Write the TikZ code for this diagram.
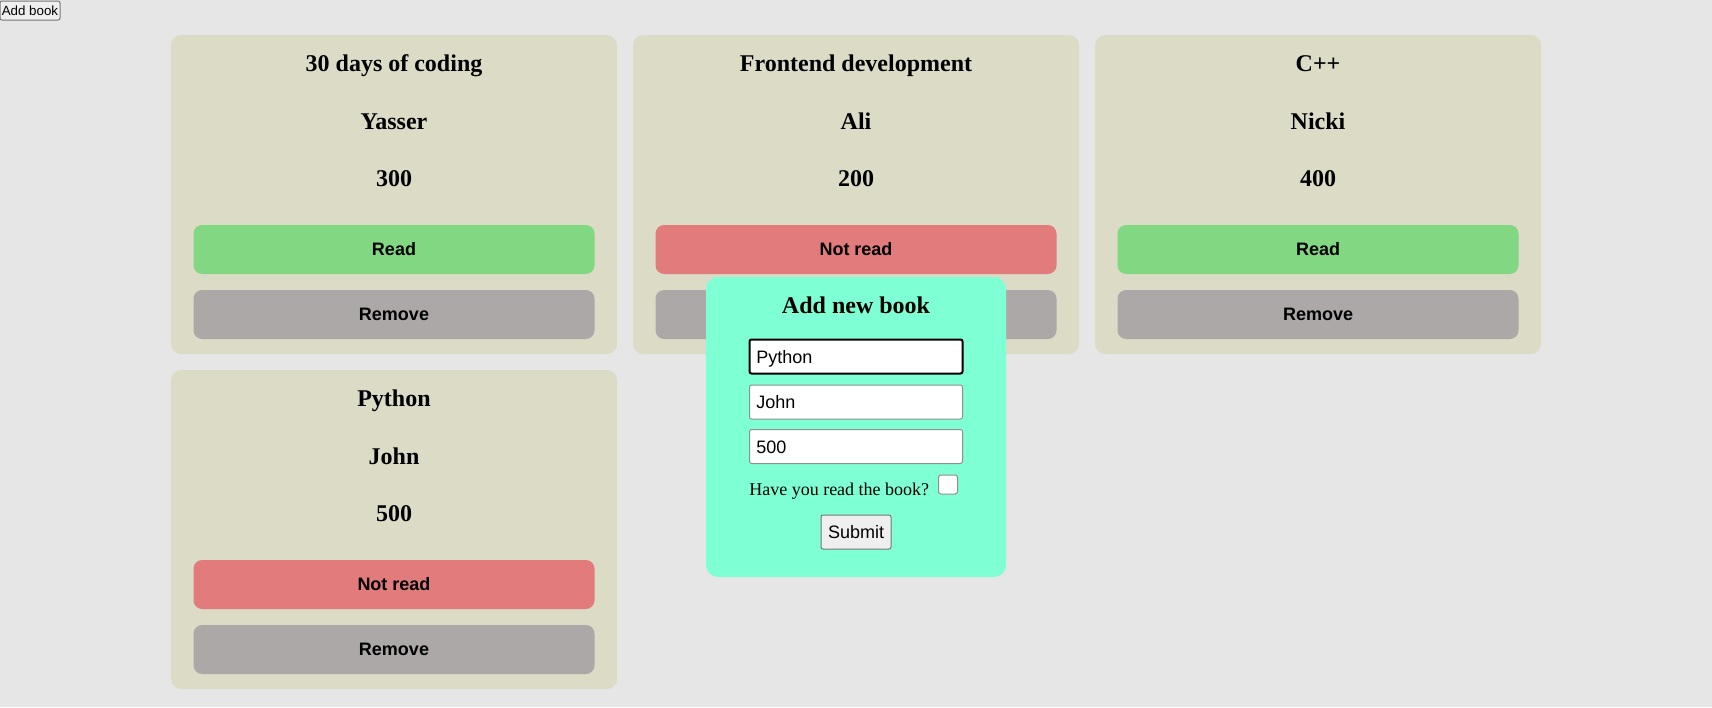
\documentclass[tikz,border=0pt]{standalone}
\usepackage{fontspec}
\setmainfont{Liberation Serif}
\setsansfont{Liberation Sans}
\definecolor{bgc}{HTML}{E6E6E6}
\definecolor{cardc}{HTML}{DCDBC6}
\definecolor{readc}{HTML}{82D782}
\definecolor{notc}{HTML}{E27B7B}
\definecolor{remc}{HTML}{ACA8A7}
\definecolor{modalc}{HTML}{7FFFD4}
\definecolor{btnfill}{HTML}{EFEFEF}
\definecolor{btnline}{HTML}{767676}
\definecolor{inline}{HTML}{8F8F8F}
\tikzset{
  cardbox/.style={fill=cardc, rounded corners=7.5pt, minimum width={446*0.75pt}, minimum height={319*0.75pt}, inner sep=0pt},
  titletext/.style={anchor=base, inner sep=0pt, font=\fontsize{18}{18}\selectfont\bfseries},
  btnbox/.style={rounded corners=6.5pt, minimum width={401*0.75pt}, minimum height={49*0.75pt}, inner sep=0pt, font=\sffamily\bfseries\fontsize{13.5}{13.5}\selectfont},
  modalbox/.style={fill=modalc, rounded corners=9pt, minimum width={300*0.75pt}, minimum height={300*0.75pt}, inner sep=0pt},
  inputbox/.style={fill=white, draw=inline, line width=0.75pt, rounded corners=1.5pt, minimum width={213*0.75pt}, inner sep=0pt},
  inputtext/.style={anchor=base west, inner sep=0pt, font=\sffamily\fontsize{13.5}{13.5}\selectfont},
  formbtn/.style={fill=btnfill, draw=btnline, line width=0.75pt, rounded corners=1.5pt, inner sep=0pt},
}
\newcommand\bookcard[9]{%
  \node[cardbox] (#1) at ({#2+223},{#3+159.5}) {};
  \node[titletext] (#1-title) at ({#2+223},{#3+36.7}) {#4};
  \node[titletext] (#1-author) at ({#2+223},{#3+94}) {#5};
  \node[titletext] (#1-pages) at ({#2+223},{#3+151}) {#6};
  \node[btnbox, fill=#8] (#1-status) at ({#2+223},{#3+214.5}) {#7};
  \node[btnbox, fill=remc] (#1-remove) at ({#2+223},{#3+279.5}) {#9};
}
\begin{document}
\begin{tikzpicture}[x=0.75pt, y=-0.75pt]
  \fill[bgc] (0,0) rectangle (1712,707);
  \useasboundingbox (0,0) rectangle (1712,707);
  % Add book button
  \node[formbtn, minimum width={60*0.75pt}, minimum height={19*0.75pt}, font=\sffamily\fontsize{10}{10}\selectfont] (addbook) at (30,10.5) {Add book};
  % cards
  \bookcard{c1}{171}{35}{30 days of coding}{Yasser}{300}{Read}{readc}{Remove}
  \bookcard{c2}{633}{35}{Frontend development}{Ali}{200}{Not read}{notc}{}
  \bookcard{c3}{1095}{35}{C++}{Nicki}{400}{Read}{readc}{Remove}
  \bookcard{c4}{171}{370}{Python}{John}{500}{Not read}{notc}{Remove}
  % modal
  \node[modalbox] (modal) at (856,427) {};
  \node[titletext] (mtitle) at (856,313) {Add new book};
  \node[inputbox, draw=black, line width=1.5pt, minimum height={34*0.75pt}] (in1) at (856,356.5) {};
  \node[inputtext] (in1-t) at (756,363) {Python};
  \node[inputbox, minimum height={34*0.75pt}] (in2) at (856,402) {};
  \node[inputtext] (in2-t) at (756,408) {John};
  \node[inputbox, minimum height={34*0.75pt}] (in3) at (856,446.5) {};
  \node[inputtext] (in3-t) at (756,453) {500};
  \node[anchor=base west, inner sep=0pt, font=\fontsize{13.5}{13.5}\selectfont] (qlabel) at (749,495) {Have you read the book?};
  \node[inputbox, minimum width={19*0.75pt}, minimum height={19*0.75pt}, rounded corners=1.8pt] (check) at (948,484.5) {};
  \node[formbtn, minimum width={70*0.75pt}, minimum height={34*0.75pt}, font=\sffamily\fontsize{13.5}{13.5}\selectfont] (submit) at (856,532) {Submit};
\end{tikzpicture}
\end{document}
